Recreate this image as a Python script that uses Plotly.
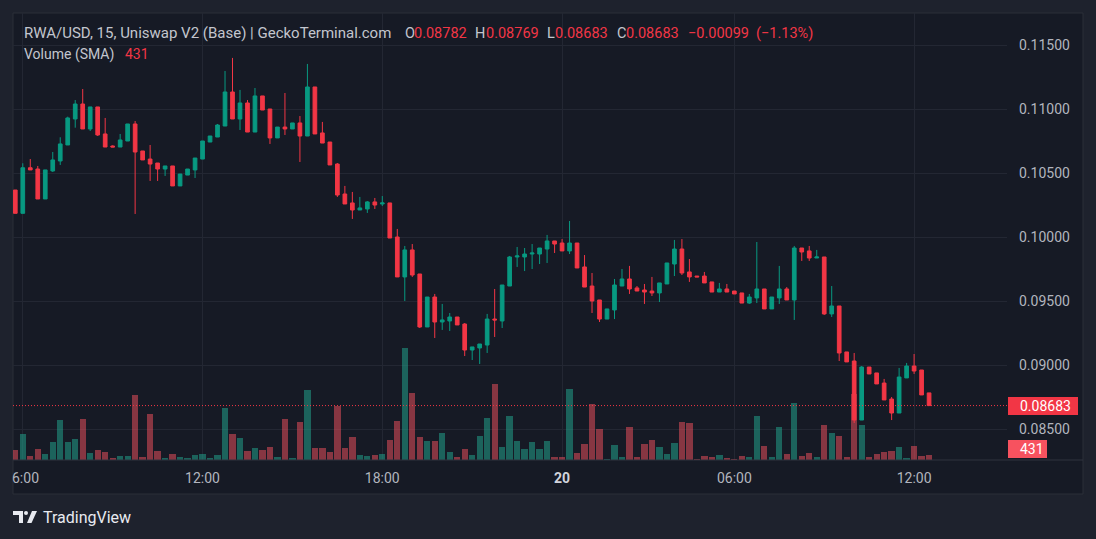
import plotly.graph_objects as go

# ---------------- data (15-minute candles, RWA/USD) ----------------
OPEN = [0.10367, 0.10185, 0.10541, 0.10531, 0.10297, 0.10516, 0.10594, 0.10719, 0.10922, 0.11039,
        0.10844, 0.11016, 0.10805, 0.10711, 0.10703, 0.10750, 0.10883, 0.10672, 0.10609, 0.10578,
        0.10531, 0.10555, 0.10399, 0.10484, 0.10524, 0.10609, 0.10742, 0.10781, 0.10867, 0.11133,
        0.10922, 0.11047, 0.10820, 0.11102, 0.11000, 0.10774, 0.10859, 0.10844, 0.10891, 0.10789,
        0.11172, 0.10813, 0.10742, 0.10570, 0.10336, 0.10266, 0.10211, 0.10219, 0.10274, 0.10258,
        0.10266, 0.10000, 0.09688, 0.09899, 0.09711, 0.09297, 0.09531, 0.09336, 0.09344, 0.09375,
        0.09320, 0.09117, 0.09133, 0.09156, 0.09359, 0.09344, 0.09617, 0.09844, 0.09844, 0.09867,
        0.09867, 0.09906, 0.09969, 0.09953, 0.09891, 0.09953, 0.09766, 0.09617, 0.09508, 0.09359,
        0.09430, 0.09617, 0.09672, 0.09602, 0.09586, 0.09578, 0.09563, 0.09633, 0.09789, 0.09906,
        0.09727, 0.09695, 0.09695, 0.09649, 0.09570, 0.09594, 0.09578, 0.09563, 0.09484, 0.09524,
        0.09594, 0.09438, 0.09524, 0.09594, 0.09508, 0.09914, 0.09891, 0.09836, 0.09844, 0.09399,
        0.09461, 0.09102, 0.09031, 0.08570, 0.08984, 0.08938, 0.08859, 0.08734, 0.08625, 0.08899,
        0.08992, 0.08961, 0.08782]

HIGH = [0.10367, 0.10576, 0.10609, 0.10555, 0.10524, 0.10664, 0.10779, 0.10940, 0.11070, 0.11156,
        0.11016, 0.11016, 0.10930, 0.10716, 0.10805, 0.10883, 0.10906, 0.10672, 0.10719, 0.10578,
        0.10555, 0.10555, 0.10492, 0.10531, 0.10617, 0.10750, 0.10789, 0.10883, 0.11297, 0.11399,
        0.11149, 0.11070, 0.11164, 0.11102, 0.11000, 0.10859, 0.11125, 0.10891, 0.10945, 0.11352,
        0.11172, 0.10899, 0.10742, 0.10578, 0.10399, 0.10352, 0.10313, 0.10281, 0.10305, 0.10320,
        0.10266, 0.10063, 0.09930, 0.09945, 0.09711, 0.09531, 0.09555, 0.09477, 0.09406, 0.09375,
        0.09328, 0.09141, 0.09164, 0.09399, 0.09594, 0.09625, 0.09852, 0.09922, 0.09914, 0.09945,
        0.09914, 0.10016, 0.09969, 0.09984, 0.10125, 0.09953, 0.09859, 0.09719, 0.09508, 0.09438,
        0.09672, 0.09750, 0.09774, 0.09617, 0.09633, 0.09688, 0.09641, 0.09797, 0.09977, 0.09984,
        0.09828, 0.09695, 0.09727, 0.09649, 0.09641, 0.09633, 0.09578, 0.09563, 0.09555, 0.09961,
        0.09594, 0.09531, 0.09774, 0.09609, 0.09930, 0.09914, 0.09930, 0.09899, 0.09844, 0.09617,
        0.09461, 0.09102, 0.09094, 0.08992, 0.08984, 0.08938, 0.08891, 0.08750, 0.08977, 0.09016,
        0.09086, 0.08961, 0.08782]

LOW = [0.10185, 0.10185, 0.10524, 0.10297, 0.10297, 0.10508, 0.10563, 0.10719, 0.10854, 0.10844,
       0.10828, 0.10789, 0.10703, 0.10703, 0.10703, 0.10750, 0.10180, 0.10602, 0.10438, 0.10438,
       0.10477, 0.10399, 0.10399, 0.10484, 0.10461, 0.10609, 0.10742, 0.10781, 0.10867, 0.10922,
       0.10836, 0.10820, 0.10820, 0.10992, 0.10727, 0.10774, 0.10797, 0.10844, 0.10586, 0.10789,
       0.10805, 0.10734, 0.10563, 0.10313, 0.10258, 0.10141, 0.10211, 0.10188, 0.10219, 0.10242,
       0.09992, 0.09688, 0.09500, 0.09688, 0.09289, 0.09297, 0.09211, 0.09274, 0.09266, 0.09313,
       0.09070, 0.09039, 0.09008, 0.09094, 0.09219, 0.09289, 0.09617, 0.09766, 0.09734, 0.09750,
       0.09789, 0.09797, 0.09875, 0.09891, 0.09867, 0.09758, 0.09609, 0.09406, 0.09336, 0.09359,
       0.09359, 0.09617, 0.09555, 0.09578, 0.09477, 0.09539, 0.09492, 0.09633, 0.09695, 0.09703,
       0.09649, 0.09688, 0.09641, 0.09570, 0.09570, 0.09570, 0.09555, 0.09484, 0.09477, 0.09484,
       0.09438, 0.09438, 0.09477, 0.09508, 0.09352, 0.09813, 0.09813, 0.09836, 0.09391, 0.09375,
       0.09031, 0.09024, 0.08547, 0.08570, 0.08930, 0.08852, 0.08727, 0.08570, 0.08625, 0.08899,
       0.08930, 0.08766, 0.08683]

CLOSE = [0.10185, 0.10541, 0.10524, 0.10297, 0.10524, 0.10602, 0.10727, 0.10930, 0.11039, 0.10844,
         0.11016, 0.10797, 0.10703, 0.10703, 0.10758, 0.10883, 0.10664, 0.10602, 0.10570, 0.10531,
         0.10555, 0.10399, 0.10492, 0.10531, 0.10617, 0.10750, 0.10789, 0.10875, 0.11133, 0.10922,
         0.11047, 0.10820, 0.11102, 0.10992, 0.10774, 0.10859, 0.10844, 0.10891, 0.10789, 0.11172,
         0.10805, 0.10734, 0.10563, 0.10328, 0.10258, 0.10211, 0.10227, 0.10274, 0.10250, 0.10266,
         0.09992, 0.09688, 0.09899, 0.09703, 0.09297, 0.09531, 0.09336, 0.09352, 0.09375, 0.09313,
         0.09117, 0.09141, 0.09164, 0.09359, 0.09352, 0.09625, 0.09844, 0.09852, 0.09867, 0.09875,
         0.09914, 0.09969, 0.09945, 0.09891, 0.09953, 0.09758, 0.09609, 0.09500, 0.09359, 0.09438,
         0.09625, 0.09672, 0.09594, 0.09578, 0.09570, 0.09563, 0.09641, 0.09797, 0.09906, 0.09719,
         0.09688, 0.09688, 0.09641, 0.09570, 0.09594, 0.09570, 0.09555, 0.09484, 0.09531, 0.09594,
         0.09438, 0.09531, 0.09594, 0.09508, 0.09914, 0.09883, 0.09836, 0.09844, 0.09399, 0.09461,
         0.09094, 0.09024, 0.08570, 0.08984, 0.08930, 0.08852, 0.08727, 0.08625, 0.08906, 0.08992,
         0.08953, 0.08766, 0.08683]

VOLUME = [860, 2236, 344, 946, 516, 1548, 3440, 1548, 1806, 3526,
          602, 860, 688, 172, 344, 344, 5590, 258, 3956, 774,
          172, 516, 258, 172, 430, 516, 172, 430, 4472, 2236,
          1892, 774, 1032, 860, 1118, 258, 3526, 172, 3268, 6020,
          1032, 1032, 688, 4644, 1032, 1978, 430, 344, 430, 516,
          1720, 3354, 9632, 5762, 1978, 1634, 1634, 2322, 688, 258,
          946, 430, 2064, 3612, 6536, 1118, 3784, 1634, 946, 1548,
          946, 1634, 258, 258, 6106, 602, 1376, 4816, 2666, 86,
          1290, 258, 2838, 258, 1376, 1720, 1118, 516, 1462, 3268,
          3182, 86, 344, 258, 430, 172, 86, 344, 258, 3784,
          1204, 258, 2838, 516, 4902, 344, 602, 258, 3010, 2322,
          2064, 258, 5676, 3010, 258, 516, 688, 774, 1118, 172,
          1204, 344, 431]

TICK_POS = [1, 25, 49, 73, 96, 120]
TICK_TEXT = ["06:00", "12:00", "18:00", "20", "06:00", "12:00"]

TITLE = "RWA/USD, 15, Uniswap V2 (Base) | GeckoTerminal.com"
LEGEND_OHLC = [("O", "0.08782"), ("H", "0.08769"), ("L", "0.08683"), ("C", "0.08683")]
CHANGE = "\u22120.00099"
CHANGE_PCT = "(\u22121.13%)"
VOL_SMA = "431"

# ---------------- styling ----------------
W, H = 1096, 539
PL, PR, PT, PB = 13, 1007, 13, 460          # plot area in pixels
OUTER = "#1e222d"
INNER = "#161a25"
GRID = "#232733"
BORDER = "#2a2e39"
TXT = "#b2b5be"
LEG = "#c3c6ce"
UP = "#089981"
DOWN = "#f23645"
VUP = "rgba(34,171,148,0.5)"
VDOWN = "rgba(247,82,95,0.5)"
FONT = "Roboto, sans-serif"


def px_x(px):
    return (px - PL) / (PR - PL)


def px_y(py):
    return (PB - py) / (PB - PT)


idx = list(range(len(CLOSE)))
vol_colors = [VUP if c >= o else VDOWN for o, c in zip(OPEN, CLOSE)]

fig = go.Figure()
fig.add_trace(go.Bar(
    x=idx, y=VOLUME, marker=dict(color=vol_colors, line=dict(width=0)),
    width=0.84, yaxis="y", hoverinfo="skip", showlegend=False))
fig.add_trace(go.Candlestick(
    x=idx, open=OPEN, high=HIGH, low=LOW, close=CLOSE, yaxis="y2",
    increasing=dict(line=dict(color=UP, width=1), fillcolor=UP),
    decreasing=dict(line=dict(color=DOWN, width=1), fillcolor=DOWN),
    whiskerwidth=0, hoverinfo="skip", showlegend=False))

# x positions: candle i centred at 15.3 + 7.49*i px
step = 7.49
x0c = 15.3
xr = [(PL - x0c) / step, (PR - x0c) / step]
yr_price = [0.085 - (PB - 429) / 12800, 0.085 + (429 - PT) / 12800]

ticktext = [""] + [
    "<span style='color:#d1d4dc'><b>%s</b></span>" % t if t == "20" else t
    for t in TICK_TEXT[1:]
]

fig.update_layout(
    width=W, height=H,
    margin=dict(l=PL, r=W - PR, t=PT, b=H - PB, pad=0),
    paper_bgcolor=OUTER, plot_bgcolor=INNER,
    font=dict(family=FONT, color=TXT, size=14),
    showlegend=False, hovermode=False, dragmode=False,
    bargap=0,
    xaxis=dict(range=xr, tickmode="array", tickvals=TICK_POS, ticktext=ticktext,
               showgrid=True, gridcolor=GRID, gridwidth=1, zeroline=False,
               showline=False, ticks="", tickfont=dict(size=14, color=TXT),
               ticklabelstandoff=8, rangeslider=dict(visible=False), fixedrange=True),
    yaxis=dict(range=[0, 38442], visible=False, showgrid=False, fixedrange=True),
    yaxis2=dict(range=yr_price, overlaying="y", side="right", anchor="x",
                tick0=0.085, dtick=0.005, tickformat=".5f",
                showgrid=True, gridcolor=GRID, gridwidth=1, zeroline=False,
                showline=False, ticks="", tickfont=dict(size=14, color=TXT),
                ticklabelstandoff=11, fixedrange=True),
)

shapes = [
    # chart panel
    dict(type="rect", xref="paper", yref="paper", layer="below",
         x0=px_x(13), x1=px_x(1083), y0=px_y(494), y1=px_y(13),
         fillcolor=INNER, line=dict(color=BORDER, width=1)),
    # separator between plot and time scale
    dict(type="line", xref="paper", yref="paper", layer="above",
         x0=px_x(13), x1=px_x(1083), y0=px_y(460), y1=px_y(460),
         line=dict(color="#2e323e", width=1)),
    # current price dotted line
    dict(type="line", xref="paper", yref="y2", layer="above",
         x0=0, x1=1, y0=CLOSE[-1], y1=CLOSE[-1],
         line=dict(color=DOWN, width=1, dash="1px,2px")),
    # price label box
    dict(type="rect", xref="paper", yref="paper", layer="above",
         x0=px_x(1008), x1=px_x(1078), y0=px_y(415), y1=px_y(397),
         fillcolor=DOWN, line=dict(width=0)),
    # volume label box
    dict(type="rect", xref="paper", yref="paper", layer="above",
         x0=px_x(1008), x1=px_x(1047), y0=px_y(458), y1=px_y(440),
         fillcolor="#f7525f", line=dict(width=0)),
    # TradingView logo
    dict(type="path", xref="paper", yref="paper", layer="above",
         path="M %f,%f L %f,%f L %f,%f L %f,%f L %f,%f L %f,%f Z" % (
             px_x(13), px_y(511), px_x(23), px_y(511), px_x(23), px_y(523),
             px_x(19), px_y(523), px_x(19), px_y(515), px_x(13), px_y(515)),
         fillcolor="#e8eaf0", line=dict(width=0)),
    dict(type="circle", xref="paper", yref="paper", layer="above",
         x0=px_x(24), x1=px_x(28), y0=px_y(515), y1=px_y(511),
         fillcolor="#e8eaf0", line=dict(width=0)),
    dict(type="path", xref="paper", yref="paper", layer="above",
         path="M %f,%f L %f,%f L %f,%f L %f,%f Z" % (
             px_x(27), px_y(523), px_x(32), px_y(511), px_x(37), px_y(511),
             px_x(31.5), px_y(523)),
         fillcolor="#e8eaf0", line=dict(width=0)),
]
fig.update_layout(shapes=shapes)


def ann(text, px, py, color=TXT, size=14, xanchor="left"):
    return dict(text=text, xref="paper", yref="paper", x=px_x(px), y=px_y(py),
                xanchor=xanchor, yanchor="middle", showarrow=False,
                font=dict(family=FONT, size=size, color=color))


anns = [ann(TITLE, 22, 33, color=LEG, size=15)]
lx = [(404, 412), (474, 484), (546, 553), (616, 624)]
for (lab, val), (xl, xv) in zip(LEGEND_OHLC, lx):
    anns.append(ann(lab, xl - 1, 33, color=LEG, size=14.5))
    anns.append(ann(val, xv, 33, color=DOWN, size=14.5))
anns.append(ann(CHANGE, 686, 33, color=DOWN, size=14.5))
anns.append(ann(CHANGE_PCT, 754, 33, color=DOWN, size=14.5))
anns.append(ann("Volume (SMA)", 22, 54, color=LEG, size=14))
anns.append(ann(VOL_SMA, 123, 54, color=DOWN, size=14))
# clipped first time label
anns.append(ann(TICK_TEXT[0][1:], 40.6, 478, xanchor="right"))
# axis value labels
anns.append(ann("%.5f" % CLOSE[-1], 1018, 406, color="#ffffff"))
anns.append(ann(VOL_SMA, 1018, 449, color="#ffffff"))
# TradingView wordmark
anns.append(ann("TradingView", 41, 517, color="#e8eaf0", size=16))
fig.update_layout(annotations=anns)

fig.write_html("out.html")
